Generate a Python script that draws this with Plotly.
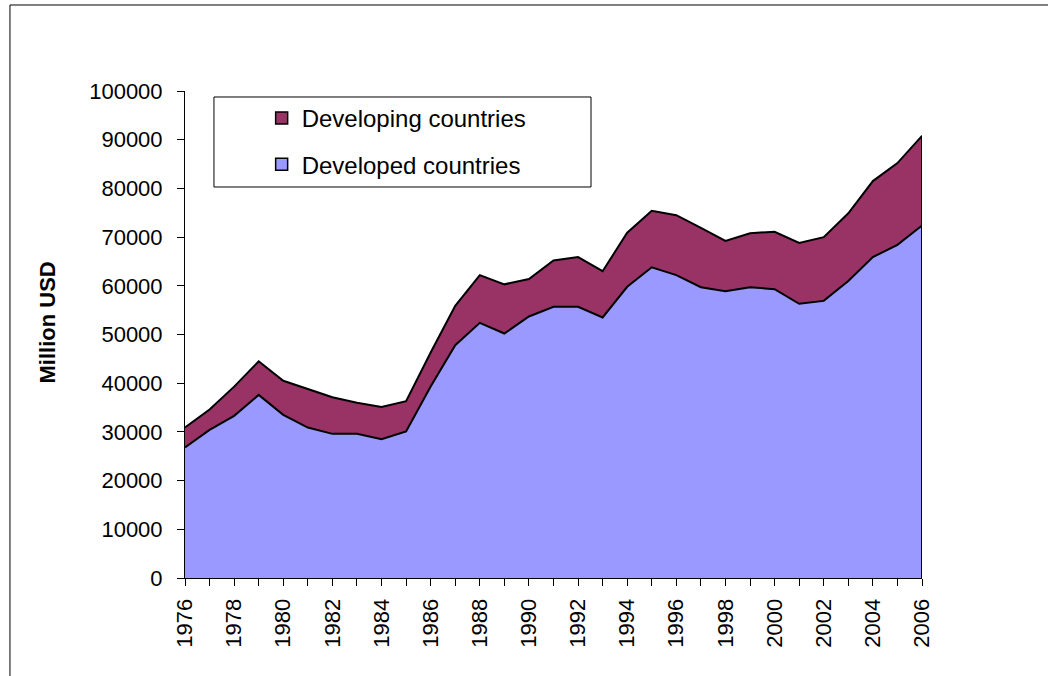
import plotly.graph_objects as go

years = list(range(1976, 2007))

developed = [26800, 30400, 33300, 37600, 33500, 30900, 29600, 29600, 28500, 30100,
             39300, 47800, 52400, 50200, 53700, 55700, 55700, 53500, 59800, 63800,
             62200, 59700, 58900, 59700, 59300, 56300, 56900, 61000, 65900, 68400,
             72400]

developing = [4100, 4200, 6000, 6900, 7000, 7900, 7500, 6400, 6600, 6200,
              7000, 8100, 9800, 10100, 7700, 9500, 10200, 9500, 11100, 11600,
              12300, 12200, 10300, 11100, 11800, 12500, 13100, 13900, 15600, 16800,
              18400]

totals = [a + b for a, b in zip(developed, developing)]

col_developed = "#9999FF"
col_developing = "#993366"
font_family = "Liberation Sans, Arial, sans-serif"

fig = go.Figure()

# stacked areas
fig.add_trace(go.Scatter(x=years, y=developed, name="Developed countries",
                         stackgroup="one", mode="lines",
                         line=dict(color="black", width=2),
                         fillcolor=col_developed, showlegend=False))
fig.add_trace(go.Scatter(x=years, y=developing, name="Developing countries",
                         stackgroup="one", mode="lines",
                         line=dict(color="black", width=2),
                         fillcolor=col_developing, showlegend=False))

# closing edge of the area at the last year
fig.add_trace(go.Scatter(x=[years[-1], years[-1]], y=[0, totals[-1]], mode="lines",
                         line=dict(color="black", width=2), showlegend=False,
                         hoverinfo="skip"))

# legend entries with square swatches like the original
fig.add_trace(go.Scatter(x=[None], y=[None], mode="markers", name="Developing countries",
                         legendgroup="a",
                         marker=dict(symbol="square", size=12, color=col_developing,
                                     line=dict(color="black", width=1.5))))
fig.add_trace(go.Scatter(x=[None], y=[None], mode="markers", name="Developed countries",
                         legendgroup="b",
                         marker=dict(symbol="square", size=12, color=col_developed,
                                     line=dict(color="black", width=1.5))))

fig.update_layout(
    width=1048, height=676,
    margin=dict(l=185, r=126, t=91, b=98),
    paper_bgcolor="white", plot_bgcolor="white",
    font=dict(family=font_family, size=22, color="black"),
    showlegend=True,
    legend=dict(x=0.104, y=0.99, xanchor="left", yanchor="top",
                bgcolor="rgba(0,0,0,0)", borderwidth=0,
                traceorder="grouped", tracegroupgap=12,
                font=dict(size=24)),
    shapes=[
        # legend frame
        dict(type="rect", xref="paper", yref="paper",
             x0=0.0393, x1=0.5509, y0=0.8029, y1=0.9877,
             line=dict(color="black", width=1), fillcolor="white", layer="below"),
        # outer chart frame
        dict(type="rect", xref="paper", yref="paper",
             x0=-0.2375, x1=1.5, y0=-0.5, y1=1.1766,
             line=dict(color="black", width=1), fillcolor="rgba(0,0,0,0)"),
    ],
    annotations=[
        dict(text="<b>Million USD</b>", xref="paper", yref="paper",
             x=-0.187, y=0.525, xanchor="center", yanchor="middle",
             textangle=-90, showarrow=False, font=dict(size=22)),
    ],
)

fig.update_xaxes(range=[1976, 2006], tickmode="linear", tick0=1976, dtick=2,
                 tickangle=-90, showline=True, linecolor="black", linewidth=1,
                 ticks="outside", ticklen=7, tickcolor="black",
                 minor=dict(dtick=1, ticks="outside", ticklen=7, tickcolor="black"),
                 showgrid=False, zeroline=False, ticklabelstandoff=4)
fig.update_yaxes(range=[0, 100000], tickmode="linear", tick0=0, dtick=10000,
                 tickformat="d", showline=True, linecolor="black", linewidth=1,
                 ticks="outside", ticklen=7, tickcolor="black",
                 showgrid=False, zeroline=False, ticklabelstandoff=10)

fig.write_html("out.html", config={"displayModeBar": False},
               post_script="document.body.style.margin='0';")
